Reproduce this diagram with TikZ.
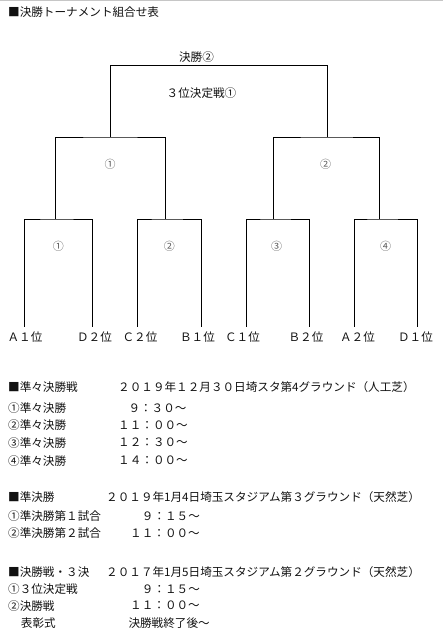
\documentclass[tikz,border=0pt]{standalone}
\usepackage{fontspec}
\setmainfont{Noto Sans CJK JP}
\usepackage{xcolor}
\definecolor{rule}{HTML}{111111}
\definecolor{numgray}{HTML}{5A5A5A}

\begin{document}
\begin{tikzpicture}[x=1pt, y=-1pt,
  bline/.style={draw=black, line width=0.9pt},
  txt/.style={anchor=west, inner sep=0pt, font=\fontsize{11.6}{13}\selectfont, text=rule},
  lbl/.style={inner sep=0pt, font=\fontsize{11.6}{13}\selectfont, text=rule},
  num/.style={inner sep=0pt, font=\fontsize{11}{13}\selectfont, text=numgray}
]
  \useasboundingbox (0,0) rectangle (443,639);
  \draw[gray!45, line width=1.2pt] (0,0.6) -- (443,0.6);

  % bracket points
  \coordinate (l1) at (24.3,326.7);
  \coordinate (l2) at (92.3,326.7);
  \coordinate (l3) at (137.3,326.7);
  \coordinate (l4) at (201.3,326.7);
  \coordinate (l5) at (246.3,326.7);
  \coordinate (l6) at (309.3,326.7);
  \coordinate (l7) at (354.3,326.7);
  \coordinate (l8) at (417.3,326.7);
  \coordinate (q1) at (55.3,219);
  \coordinate (q2) at (165.3,219);
  \coordinate (q3) at (273.3,219);
  \coordinate (q4) at (379.3,219);
  \coordinate (s1) at (110.3,137);
  \coordinate (s2) at (327.3,137);
  \coordinate (f) at (218.8,65.3);

  \draw[bline] (l1) |- (q1) -| (l2);
  \draw[bline] (l3) |- (q2) -| (l4);
  \draw[bline] (l5) |- (q3) -| (l6);
  \draw[bline] (l7) |- (q4) -| (l8);
  \draw[bline] (q1) |- (s1) -| (q2);
  \draw[bline] (q3) |- (s2) -| (q4);
  \draw[bline] (s1) |- (f) -| (s2);

  % bracket labels
  \node[lbl] (final) at (196.5,56.7) {決勝②};
  \node[lbl] (third) at (201.5,93.3) {３位決定戦①};
  \node[num] (sf1) at (110,164) {①};
  \node[num] (sf2) at (325.7,164) {②};
  \node[num] (qf1) at (58.3,246) {①};
  \node[num] (qf2) at (169.3,246) {②};
  \node[num] (qf3) at (276.7,246) {③};
  \node[num] (qf4) at (385.7,246) {④};

  \node[lbl] (a1) at (25,336.7) {Ａ１位};
  \node[lbl] (d2) at (94.5,336.7) {Ｄ２位};
  \node[lbl] (c2) at (140,336.7) {Ｃ２位};
  \node[lbl] (b1) at (197.5,336.7) {Ｂ１位};
  \node[lbl] (c1) at (242.5,336.7) {Ｃ１位};
  \node[lbl] (b2) at (306,336.7) {Ｂ２位};
  \node[lbl] (a2) at (357.5,336.7) {Ａ２位};
  \node[lbl] (d1) at (415.5,336.7) {Ｄ１位};

  % title
  \node[txt] (title) at (8,11.7) {■決勝トーナメント組合せ表};

  % quarter finals
  \node[txt] (qhead) at (8,387.3) {■準々決勝戦};
  \node[txt] (qvenue) at (118,387.3) {２０１９年１２月３０日埼スタ第4グラウンド（人工芝）};
  \node[txt] (qm1) at (8,408.3) {①準々決勝};
  \node[txt] (qt1) at (128.3,408.3) {９：３０～};
  \node[txt] (qm2) at (8,425) {②準々決勝};
  \node[txt] (qt2) at (118,425) {１１：００～};
  \node[txt] (qm3) at (8,442.7) {③準々決勝};
  \node[txt] (qt3) at (118,442.7) {１２：３０～};
  \node[txt] (qm4) at (8,460.7) {④準々決勝};
  \node[txt] (qt4) at (118,460.7) {１４：００～};

  % semi finals
  \node[txt] (shead) at (8,496.7) {■準決勝};
  \node[txt] (svenue) at (106,496.7) {２０１９年1月4日埼玉スタジアム第３グラウンド（天然芝）};
  \node[txt] (sm1) at (8,516) {①準決勝第１試合};
  \node[txt] (st1) at (141.7,516) {９：１５～};
  \node[txt] (sm2) at (8,533.3) {②準決勝第２試合};
  \node[txt] (st2) at (130,533.3) {１１：００～};

  % final and third place
  \node[txt] (fhead) at (8,572.3) {■決勝戦・３決};
  \node[txt] (fvenue) at (106,572.3) {２０１７年1月5日埼玉スタジアム第２グラウンド（天然芝）};
  \node[txt] (fm1) at (8,589.3) {①３位決定戦};
  \node[txt] (ft1) at (141.7,589.3) {９：１５～};
  \node[txt] (fm2) at (8,605.7) {②決勝戦};
  \node[txt] (ft2) at (130,605.7) {１１：００～};
  \node[txt] (fm3) at (20.7,623.3) {表彰式};
  \node[txt] (ft3) at (128.3,623.3) {決勝戦終了後～};
\end{tikzpicture}
\end{document}
